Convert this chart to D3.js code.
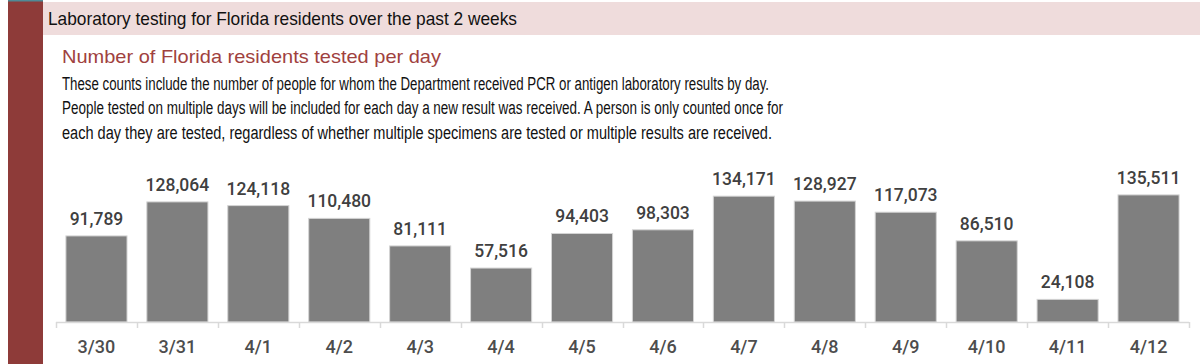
<!DOCTYPE html>
<html>
<head>
<meta charset="utf-8">
<script src="https://cdn.jsdelivr.net/npm/d3@7"></script>
<style>
  html, body { margin: 0; padding: 0; background: #ffffff; }
  svg { display: block; }
</style>
</head>
<body>
<svg id="chart" width="1200" height="364"></svg>
<script>
const categories = ["3/30","3/31","4/1","4/2","4/3","4/4","4/5","4/6","4/7","4/8","4/9","4/10","4/11","4/12"];
const tested = [91789,128064,124118,110480,81111,57516,94403,98303,134171,128927,117073,86510,24108,135511];
const headerTitle = "Laboratory testing for Florida residents over the past 2 weeks";
const subTitle = "Number of Florida residents tested per day";
const noteLines = [
  "These counts include the number of people for whom the Department received PCR or antigen laboratory results by day.",
  "People tested on multiple days will be included for each day a new result was received. A person is only counted once for",
  "each day they are tested, regardless of whether multiple specimens are tested or multiple results are received."
];

const svg = d3.select("#chart");
const W = 1200, H = 364;

// left accent bar
svg.append("rect").attr("x", 8).attr("y", 0).attr("width", 35).attr("height", H).attr("fill", "#8e3b39");
svg.append("rect").attr("x", 8).attr("y", 0).attr("width", 35).attr("height", 1.5).attr("fill", "#4f8a96");

// header band
svg.append("rect").attr("x", 43).attr("y", 2).attr("width", W - 43).attr("height", 33).attr("fill", "#efdcdc");
svg.append("text").attr("x", 48).attr("y", 25)
  .attr("font-family", "Liberation Sans, Arial, sans-serif").attr("font-size", 18.5)
  .attr("fill", "#111").attr("textLength", 469).attr("lengthAdjust", "spacingAndGlyphs")
  .text(headerTitle);

// subtitle
svg.append("text").attr("x", 62).attr("y", 63)
  .attr("font-family", "Liberation Sans, Arial, sans-serif").attr("font-size", 19)
  .attr("fill", "#a0413e").attr("textLength", 379).attr("lengthAdjust", "spacingAndGlyphs")
  .text(subTitle);

// notes
const noteWidths = [707, 721, 710];
noteLines.forEach((t, i) => {
  svg.append("text").attr("x", 62).attr("y", 90 + i * 24.3)
    .attr("font-family", "Liberation Sans, Arial, sans-serif").attr("font-size", 18)
    .attr("fill", "#111").attr("textLength", noteWidths[i]).attr("lengthAdjust", "spacingAndGlyphs")
    .text(t);
});

// chart
const x0 = 56, x1 = 1189, yBase = 322;
const x = d3.scaleBand().domain(categories).range([x0, x1]).paddingInner(0.245).paddingOuter(0.1225);
const y = d3.scaleLinear().domain([0, 140000]).range([yBase, yBase - 131.3]);

const g = svg.append("g");
g.selectAll("rect.bar").data(tested).enter().append("rect")
  .attr("class", "bar")
  .attr("x", (d, i) => x(categories[i]))
  .attr("y", d => y(d))
  .attr("width", x.bandwidth())
  .attr("height", d => yBase - y(d))
  .attr("fill", "#7f7f7f")
  .attr("stroke", "#d4d4d4").attr("stroke-width", 1);

g.selectAll("text.val").data(tested).enter().append("text")
  .attr("class", "val")
  .attr("x", (d, i) => x(categories[i]) + x.bandwidth() / 2)
  .attr("y", d => y(d) - 11)
  .attr("text-anchor", "middle")
  .attr("font-family", "Roboto, Liberation Sans, sans-serif").attr("font-weight", 500)
  .attr("font-size", 17.5).attr("fill", "#404040")
  .text(d => d3.format(",")(d));

// axis
const step = (x1 - x0) / categories.length;
const axisG = svg.append("g");
axisG.append("line").attr("x1", x0).attr("x2", x1).attr("y1", yBase + 0.5).attr("y2", yBase + 0.5)
  .attr("stroke", "#d9d9d9").attr("stroke-width", 1.5);
d3.range(categories.length + 1).forEach(i => {
  const xx = Math.round(x0 + i * step) + 0.5;
  axisG.append("line").attr("x1", xx).attr("x2", xx).attr("y1", yBase).attr("y2", yBase + 6)
    .attr("stroke", "#d9d9d9").attr("stroke-width", 1.5);
});
axisG.selectAll("text.cat").data(categories).enter().append("text")
  .attr("class", "cat")
  .attr("x", d => x(d) + x.bandwidth() / 2)
  .attr("y", 353)
  .attr("text-anchor", "middle")
  .attr("font-family", "Roboto, Liberation Sans, sans-serif").attr("font-weight", 500)
  .attr("font-size", 18).attr("fill", "#4d4d4d")
  .text(d => d);
</script>
</body>
</html>
